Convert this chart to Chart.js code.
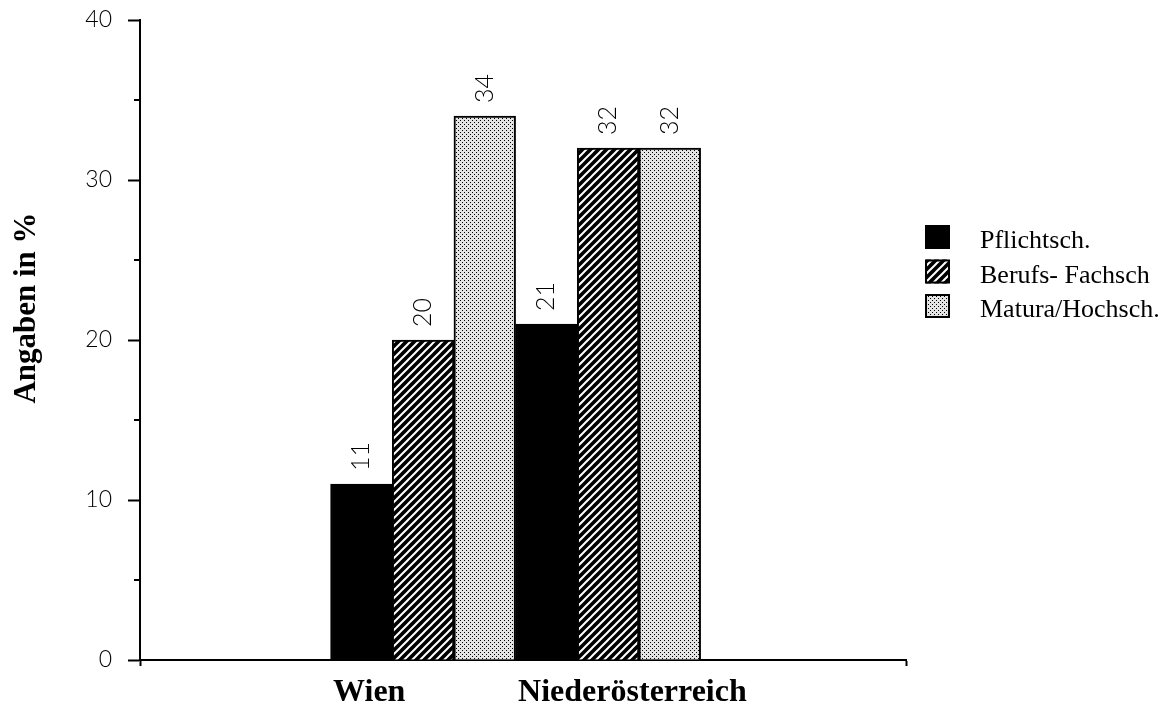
<!DOCTYPE html>
<html>
<head>
<meta charset="utf-8">
<script src="https://cdn.jsdelivr.net/npm/chart.js@4.4.0/dist/chart.umd.min.js"></script>
<style>
  html, body { margin: 0; padding: 0; background: #fff; }
  #wrap { width: 1174px; height: 711px; }
</style>
</head>
<body>
<div id="wrap"><canvas id="chart"></canvas></div>
<script>
// values
const categories = ['Wien', 'Niederösterreich'];
const seriesNames = ['Pflichtsch.', 'Berufs- Fachsch', 'Matura/Hochsch.'];
const pflicht = [11, 21];
const berufs = [20, 32];
const matura = [34, 32];
const yTicks = [0, 10, 20, 30, 40];
const yMinorTicks = [5, 15, 25, 35];
const yTitle = 'Angaben in %';

const xMin = -0.53;
const xMax = 3.61;

function hatchPattern() {
  const s = 8;
  const c = document.createElement('canvas');
  c.width = s; c.height = s;
  const g = c.getContext('2d');
  g.fillStyle = '#000';
  g.fillRect(0, 0, s, s);
  g.strokeStyle = '#fff';
  g.lineWidth = 2;
  g.beginPath();
  g.moveTo(0, s); g.lineTo(s, 0);
  g.moveTo(-2, 2); g.lineTo(2, -2);
  g.moveTo(s - 2, s + 2); g.lineTo(s + 2, s - 2);
  g.stroke();
  return g.createPattern(c, 'repeat');
}

function dotPattern() {
  const c = document.createElement('canvas');
  c.width = 4; c.height = 4;
  const g = c.getContext('2d');
  g.fillStyle = '#e4e4e4';
  g.fillRect(0, 0, 4, 4);
  g.fillStyle = '#000';
  g.fillRect(0, 0, 1, 1);
  g.fillRect(2, 2, 1, 1);
  return g.createPattern(c, 'repeat');
}

const ctx = document.getElementById('chart').getContext('2d');
const fills = ['#000', hatchPattern(), dotPattern()];
const values = [pflicht, berufs, matura];

const datasets = seriesNames.map((name, i) => ({
  label: name,
  data: values[i].map((v, j) => ({ x: j + 1, y: v })),
  backgroundColor: fills[i],
  borderColor: '#000',
  borderWidth: 2,
  barPercentage: 1,
  categoryPercentage: 1
}));

// rotated value labels above the bars
const valueLabels = {
  id: 'valueLabels',
  afterDatasetsDraw(chart) {
    const c = chart.ctx;
    c.save();
    c.fillStyle = '#000';
    c.font = '300 25px Lato';
    c.textAlign = 'left';
    c.textBaseline = 'middle';
    chart.data.datasets.forEach((ds, i) => {
      chart.getDatasetMeta(i).data.forEach((bar, j) => {
        c.save();
        c.translate(bar.x, bar.y - 13);
        c.rotate(-Math.PI / 2);
        c.fillText(String(ds.data[j].y), 0, 0);
        c.restore();
      });
    });
    c.restore();
  }
};

// minor ticks, axis title and legend box
const extras = {
  id: 'extras',
  afterDraw(chart) {
    const c = chart.ctx;
    const ys = chart.scales.y;
    c.save();
    c.strokeStyle = '#000';
    c.lineWidth = 2;
    yMinorTicks.forEach(v => {
      const py = Math.round(ys.getPixelForValue(v));
      c.beginPath();
      c.moveTo(ys.right - 6, py);
      c.lineTo(ys.right, py);
      c.stroke();
    });

    c.fillStyle = '#000';
    c.font = 'bold 31px "Liberation Serif"';
    c.textAlign = 'center';
    c.textBaseline = 'alphabetic';
    c.translate(35, 308);
    c.rotate(-Math.PI / 2);
    c.fillText(yTitle, 0, 0);
    c.restore();

    c.save();
    c.font = '26px "Liberation Serif"';
    c.textAlign = 'left';
    c.textBaseline = 'alphabetic';
    chart.data.datasets.forEach((ds, i) => {
      const top = 225 + i * 34.5;
      c.fillStyle = ds.backgroundColor;
      c.fillRect(925, top, 25, 24);
      c.strokeStyle = '#000';
      c.lineWidth = 2;
      c.strokeRect(926, top + 1, 23, 22);
      c.fillStyle = '#000';
      c.fillText(ds.label, 980, top + 23);
    });
    c.restore();
  }
};

new Chart(ctx, {
  type: 'bar',
  data: { datasets },
  options: {
    responsive: true,
    maintainAspectRatio: false,
    animation: false,
    layout: { padding: { top: 20, right: 268, bottom: 0, left: 0 } },
    plugins: {
      legend: { display: false },
      tooltip: { enabled: false }
    },
    scales: {
      x: {
        type: 'linear',
        min: xMin,
        max: xMax,
        offset: false,
        afterBuildTicks: (scale) => {
          scale.ticks = [{ value: xMin }, { value: 1 }, { value: 2 }, { value: xMax }];
        },
        afterFit: (scale) => {
          scale.height = 51;
          scale.paddingLeft = 0;
          scale.paddingRight = 0;
        },
        grid: {
          offset: false,
          drawOnChartArea: false,
          tickLength: 6,
          tickWidth: 2,
          tickColor: (c) => (c.tick && (c.tick.value === 1 || c.tick.value === 2)) ? 'rgba(0,0,0,0)' : '#000'
        },
        border: { color: '#000', width: 2 },
        ticks: {
          autoSkip: false,
          maxRotation: 0,
          align: 'start',
          labelOffset: -90,
          padding: 8,
          color: '#000',
          font: { family: '"Liberation Serif"', size: 32, weight: 'bold' },
          callback: (v) => {
            const i = v - 1;
            return Number.isInteger(i) && categories[i] ? categories[i] : '';
          }
        }
      },
      y: {
        min: yTicks[0],
        max: yTicks[yTicks.length - 1],
        afterBuildTicks: (scale) => {
          scale.ticks = yTicks.map(v => ({ value: v }));
        },
        afterFit: (scale) => {
          scale.width = 140;
          scale.paddingTop = 0;
          scale.paddingBottom = 0;
        },
        grid: {
          drawOnChartArea: false,
          tickLength: 12,
          tickWidth: 2,
          tickColor: '#000'
        },
        border: { color: '#000', width: 2 },
        ticks: {
          padding: 16,
          color: '#000',
          font: { family: 'Lato', size: 23, weight: '300' }
        }
      }
    }
  },
  plugins: [valueLabels, extras]
});
</script>
</body>
</html>
